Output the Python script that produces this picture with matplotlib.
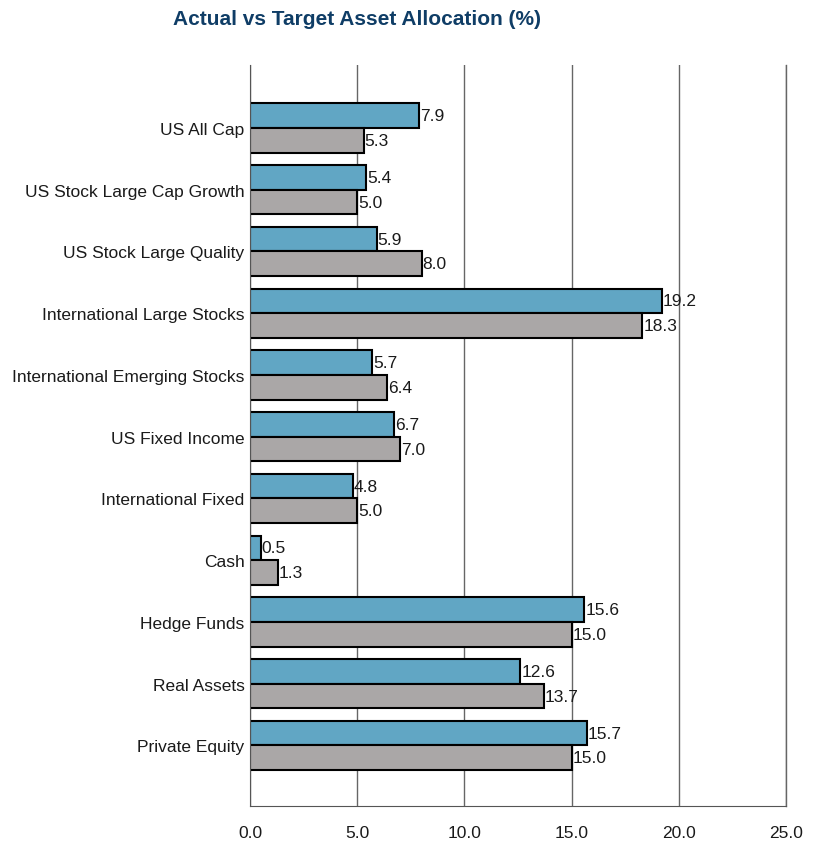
import matplotlib
matplotlib.use("Agg")
import matplotlib.pyplot as plt
from matplotlib import font_manager
import numpy as np

categories = ["US All Cap", "US Stock Large Cap Growth", "US Stock Large Quality",
              "International Large Stocks", "International Emerging Stocks",
              "US Fixed Income", "International Fixed", "Cash", "Hedge Funds",
              "Real Assets", "Private Equity"]
actual = [7.9, 5.4, 5.9, 19.2, 5.7, 6.7, 4.8, 0.5, 15.6, 12.6, 15.7]
target = [5.3, 5.0, 8.0, 18.3, 6.4, 7.0, 5.0, 1.3, 15.0, 13.7, 15.0]
xticks = [0, 5, 10, 15, 20, 25]

names = {f.name for f in font_manager.fontManager.ttflist}
fam = "Liberation Sans Narrow" if "Liberation Sans Narrow" in names else "Liberation Sans"
plt.rcParams["font.family"] = [fam, "DejaVu Sans"]

fig = plt.figure(figsize=(8.16, 8.45), dpi=100)
ax = fig.add_axes([0.3064, 0.0450, 0.6568, 0.8769])

y = np.arange(len(categories))
h = 0.4
ax.barh(y - h / 2, actual, height=h, color="#61a6c4", edgecolor="black", linewidth=1.5, zorder=3)
ax.barh(y + h / 2, target, height=h, color="#aaa7a7", edgecolor="black", linewidth=1.5, zorder=3)

for yi, v in zip(y, actual):
    ax.text(v + 0.05, yi - h / 2, f"{v:.1f}", va="center", ha="left", fontsize=12.5, color="#1a1a1a", zorder=4)
for yi, v in zip(y, target):
    ax.text(v + 0.05, yi + h / 2, f"{v:.1f}", va="center", ha="left", fontsize=12.5, color="#1a1a1a", zorder=4)

ax.set_ylim(10.98, -1.02)
ax.set_xlim(0, 25)
ax.set_yticks(y)
ax.set_yticklabels(categories, fontsize=12.5, color="#1a1a1a")
ax.set_xticks(xticks)
ax.set_xticklabels([f"{t:.1f}" for t in xticks], fontsize=12.5, color="#1a1a1a")
ax.tick_params(axis="both", length=0)
ax.tick_params(axis="x", pad=14)
ax.tick_params(axis="y", pad=4)

ax.grid(axis="x", color="#666666", linewidth=1.0, zorder=0)
ax.axvline(xticks[-1], color="#666666", linewidth=1.0, zorder=0, clip_on=False)
for s in ["top", "right"]:
    ax.spines[s].set_visible(False)
ax.spines["left"].set_color("#555555")
ax.spines["bottom"].set_color("#555555")
ax.spines["left"].set_zorder(5)

fig.text(0.438, 0.977, "Actual vs Target Asset Allocation (%)", ha="center", va="center",
         fontsize=15, fontweight="bold", color="#0f3d66")

fig.savefig("out.png", dpi=100)
